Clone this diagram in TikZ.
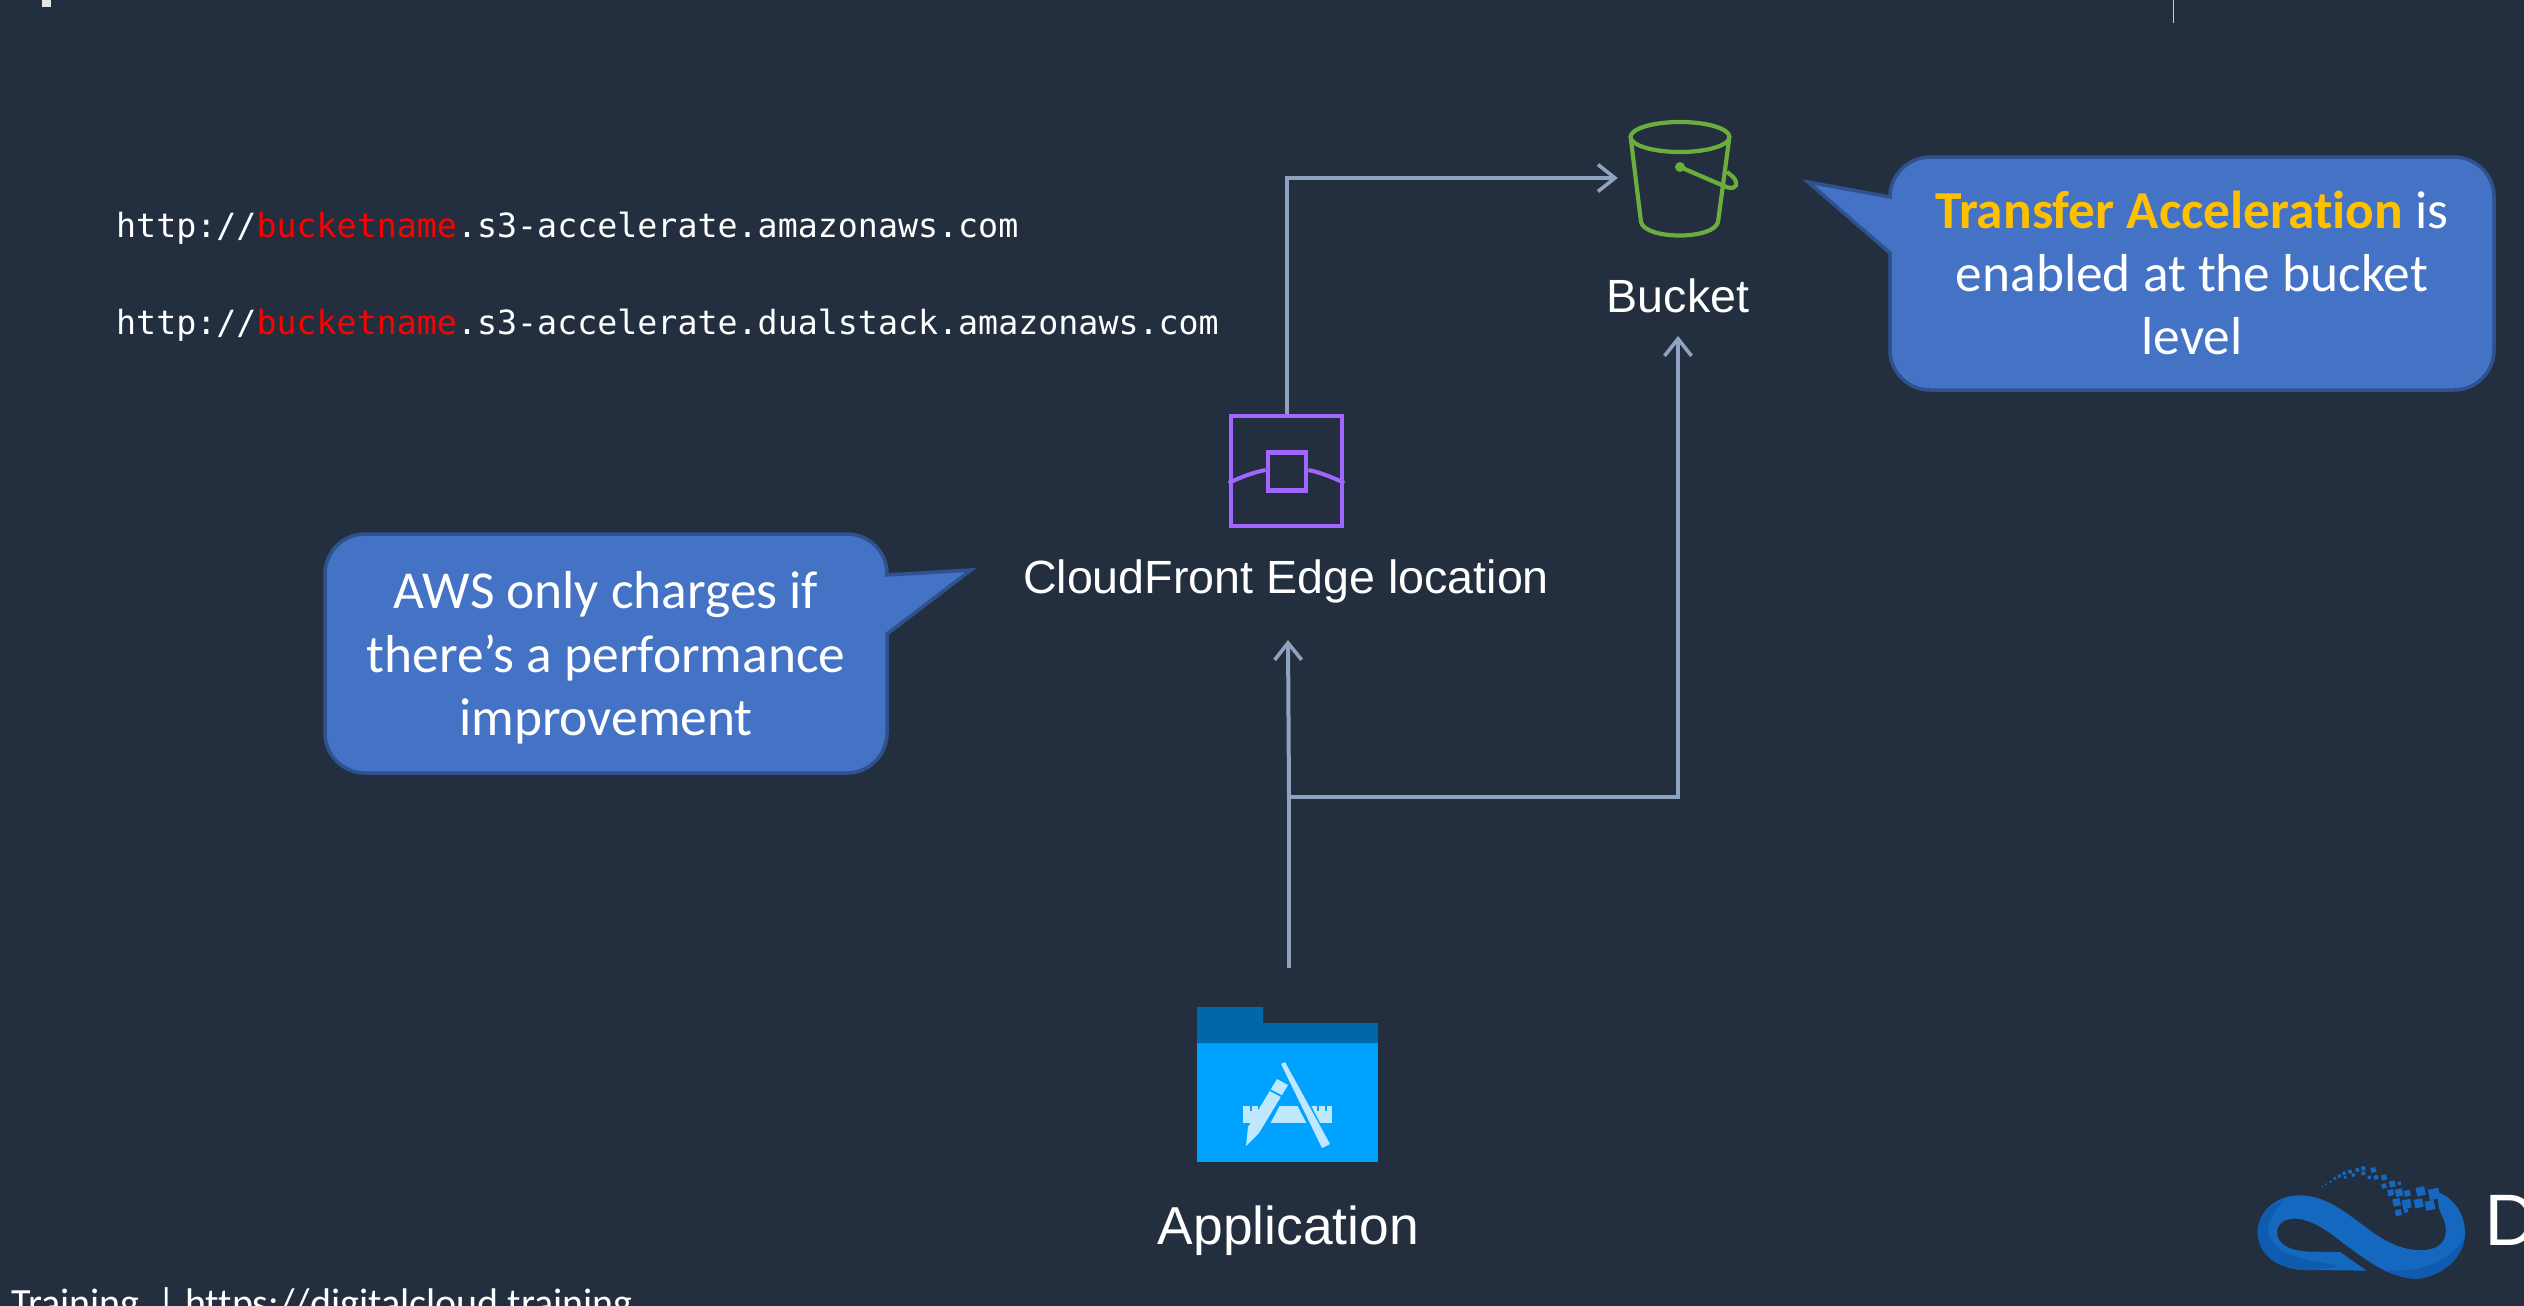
\documentclass[tikz,border=0pt]{standalone}
\usepackage{fontspec}
\setmainfont{Liberation Sans}
\newfontfamily\calloutfont[Ligatures=NoCommon]{Carlito}
\newfontfamily\codefont{DejaVu Sans Mono}
\newfontfamily\logofont{Lato}
\usetikzlibrary{arrows.meta}
\definecolor{bgc}{HTML}{232F3E}
\definecolor{linec}{HTML}{8FA3C0}
\definecolor{callfill}{HTML}{4472C4}
\definecolor{callline}{HTML}{2F528F}
\definecolor{accent}{HTML}{FFC000}
\definecolor{purplec}{HTML}{A166FF}
\definecolor{greenc}{HTML}{6CAE3E}
\definecolor{folderd}{HTML}{0068A8}
\definecolor{folderb}{HTML}{00A2FF}
\definecolor{folderl}{HTML}{BFE8FF}
\definecolor{logoc}{HTML}{1468C0}
\definecolor{logod}{HTML}{0F5BB0}
\definecolor{redc}{HTML}{FF0000}
\tikzset{
  conn/.style={draw=linec,line width=4pt},
  arr/.style={conn,-{Straight Barb[length=17pt,width=27pt,line width=3.6pt]}},
  lbl/.style={text=white,font=\fontsize{46.6pt}{50pt}\selectfont,inner sep=0pt,anchor=base},
  call/.style={fill=callfill,draw=callline,line width=3.5pt,line join=miter},
  calltext/.style={text=white,font=\calloutfont\fontsize{53.4pt}{63pt}\selectfont,inner sep=0pt,anchor=base},
  codetext/.style={text=white,font=\codefont\fontsize{33.3pt}{40pt}\selectfont,inner sep=0pt,anchor=base west},
  iconp/.style={draw=purplec,line width=4.7pt},
  icong/.style={draw=greenc,line width=4.2pt},
  pix/.style={fill=logoc,draw=none}
}
\begin{document}
\begin{tikzpicture}[x=1pt,y=-1pt]
\useasboundingbox (0,0) rectangle (2524,1306);
\begin{scope}
\clip (0,0) rectangle (2524,1306);
\fill[bgc] (0,0) rectangle (2524,1306);
% slide fragments at the edge
\fill[white!90!black] (42,0) rectangle (51,7);
\draw[white!80!black,line width=1pt] (2173,0) -- (2173,23);

% code lines
\node[codetext] (urlA) at (116,237) {http://\textcolor{redc}{bucketname}.s3-accelerate.amazonaws.com};
\node[codetext] (urlB) at (116,334) {http://\textcolor{redc}{bucketname}.s3-accelerate.dualstack.amazonaws.com};

% edge icon
\node[iconp,minimum width=111pt,minimum height=110pt,inner sep=0pt] (edge) at (1286.5,471) {};
\node[iconp,minimum width=38pt,minimum height=38pt,inner sep=0pt] (edgecore) at (1287,471.5) {};
\draw[iconp,line width=4pt] (edge.west |- 0,483) .. controls (1243,476) and (1255,472) .. (edgecore.west |- 0,470);
\draw[iconp,line width=4pt] (edge.east |- 0,483) .. controls (1330,476) and (1318,472) .. (edgecore.east |- 0,470);
\node[lbl] (edgelabel) at (1286,593) {CloudFront Edge location};

% bucket icon
\node[minimum width=124pt,minimum height=116pt,inner sep=0pt] (bucket) at (1680,178) {};
\draw[icong] (1680,137) ellipse [x radius=49.5pt,y radius=15pt];
\draw[icong] (1631,140) -- (1641,222) .. controls (1645,240) and (1714,240) .. (1718,222) -- (1729,140);
\fill[greenc] (1680,167) circle [radius=5pt];
\draw[icong] (1680,167) -- (1724,186) .. controls (1732,190) and (1738,187) .. (1736,182) .. controls (1735,178) and (1731,175) .. (1727,172);
\node[lbl] (bucketlabel) at (1678,312) {Bucket};

% application icon
\coordinate (appTop) at (1289,968);
\path (1287.5,1084.5) node[minimum width=181pt,minimum height=155pt,inner sep=0pt] (app) {};
\fill[folderb] (1197,1043) rectangle (1378,1162);
\fill[folderd] (1197,1007) -- (1263,1007) -- (1263,1023) -- (1378,1023) -- (1378,1043) -- (1197,1043) -- cycle;
\fill[folderl] (1243,1106) rectangle (1332,1123);
\foreach \nx in {1250,1258,1266,1274,1301,1309,1317,1325} {\fill[folderb] (\nx,1106) rectangle (\nx+1.5,1111);}
\draw[folderb,line width=14pt] (1285,1081) -- (1250,1146);
\draw[folderb,line width=12pt] (1282,1062) -- (1326,1148);
\fill[folderl] (1281,1064) -- (1285,1062) -- (1330,1144) -- (1322,1148) -- cycle;
\fill[folderl] (1277,1079) -- (1288,1085) -- (1259,1133) -- (1246,1146) -- (1248,1127) -- cycle;
\draw[folderb,line width=1.8pt] (1270,1090) -- (1283,1097);
\node[lbl,font=\fontsize{53.4pt}{56pt}\selectfont] (applabel) at (1288.5,1244) {Application};

% connectors
\coordinate (edgeIn) at (1288,640);
\coordinate (bucketIn) at (1678,336);
\coordinate (junction) at (1289,797);
\draw[arr] (edge.north) |- (bucket.west);
\draw[conn] (appTop) -- (junction);
\draw[arr] (junction) -- (edgeIn);
\draw[arr] (junction) -| (bucketIn);

% callouts
\path[call] (1890,197) -- (1808,182) -- (1890,253) -- (1890,350)
  arc[start angle=180,end angle=270,radius=40pt] -- (2454,390)
  arc[start angle=270,end angle=360,radius=40pt] -- (2494,197)
  arc[start angle=0,end angle=90,radius=40pt] -- (1930,157)
  arc[start angle=90,end angle=180,radius=40pt] -- cycle;
\node[calltext] (tA) at (2192,228) {\textcolor{accent}{\textbf{Transfer Acceleration}} is};
\node[calltext] (tB) at (2192,291) {enabled at the bucket};
\node[calltext] (tC) at (2192,354) {level};

\path[call] (887,575) -- (971,570) -- (887,634) -- (887,733)
  arc[start angle=0,end angle=-90,radius=40pt] -- (365,773)
  arc[start angle=270,end angle=180,radius=40pt] -- (325,574)
  arc[start angle=180,end angle=90,radius=40pt] -- (847,534)
  arc[start angle=90,end angle=0,radius=40pt] -- cycle;
\node[calltext] (lA) at (606,608) {AWS only charges if};
\node[calltext] (lB) at (606,672) {there’s a performance};
\node[calltext] (lC) at (606,735) {improvement};

% footer
\node[calltext,font=\calloutfont\fontsize{40pt}{44pt}\selectfont,anchor=base west] (foot) at (11,1316) {Training~~| https://digitalcloud.training};

% logo
\begin{scope}[shift={(2200,1120)},x=0.3333pt,y=-0.3333pt]
\fill[logoc] (500,452) -- (340,450) .. controls (230,455) and (172,400) .. (173,335)
  .. controls (175,265) and (240,225) .. (300,226)
  .. controls (390,228) and (450,290) .. (530,345)
  .. controls (590,385) and (650,400) .. (700,385)
  .. controls (745,370) and (745,320) .. (725,285)
  .. controls (715,265) and (710,240) .. (718,218)
  .. controls (770,240) and (798,295) .. (795,345)
  .. controls (790,430) and (700,478) .. (640,476)
  .. controls (560,470) and (500,420) .. (430,370)
  .. controls (380,330) and (330,295) .. (280,296)
  .. controls (240,298) and (225,325) .. (233,350)
  .. controls (245,385) and (290,395) .. (340,395)
  -- (420,396) -- cycle;
\fill[logod] (173,335) .. controls (172,400) and (230,455) .. (340,450) -- (420,440) .. controls (330,420) and (220,410) .. (205,340) .. controls (200,300) and (230,270) .. (250,240) .. controls (200,255) and (175,295) .. (173,335) -- cycle;
\fill[logod] (795,345) .. controls (790,430) and (700,478) .. (640,476) .. controls (610,474) and (580,465) .. (560,450) .. controls (640,460) and (760,430) .. (795,345) -- cycle;
\foreach \cx/\cy/\sz in {702/222/32,690/256/28,662/214/26,656/250/26,622/220/18,597/218/22,620/252/26,590/247/22,572/218/18,577/192/18,598/190/10,618/272/12,595/278/18,552/172/16,552/198/14,528/172/13,520/150/15,508/172/10,490/145/12,490/160/11,472/150/11,460/165/10,450/155/11,432/160/10,436/172/8,418/168/9,405/175/8,392/185/6,378/193/5,368/200/4} {
  \fill[pix,rotate around={12:(\cx,\cy)}] (\cx-\sz/2,\cy-\sz/2) rectangle (\cx+\sz/2,\cy+\sz/2);
}
\end{scope}
\node[text=white,font=\logofont\fontsize{70pt}{70pt}\selectfont,inner sep=0pt,anchor=base west] (logoD) at (2484,1245) {D};
\end{scope}
\end{tikzpicture}
\end{document}
